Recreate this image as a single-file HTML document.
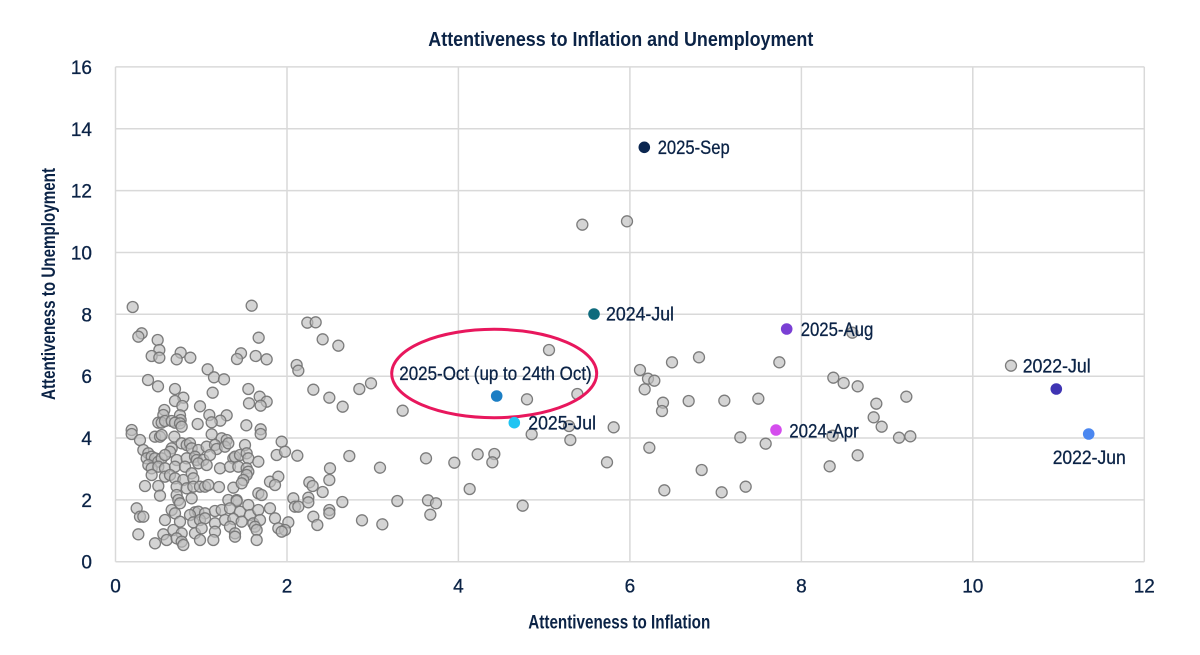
<!DOCTYPE html>
<html>
<head>
<meta charset="utf-8">
<style>
  html,body{margin:0;padding:0;background:#fff;}
  svg{display:block;}
  text{font-family:"Liberation Sans",Arial,sans-serif;fill:#0b2346;}
  .w{stroke:#0b2346;stroke-width:0.3;}
</style>
</head>
<body>
<svg width="1200" height="655" viewBox="0 0 1200 655" xmlns="http://www.w3.org/2000/svg">
  <rect x="0" y="0" width="1200" height="655" fill="#fff"/>
  <!-- grid -->
  <g stroke="#d9d9d9" stroke-width="1.5" fill="none">
    <line x1="115.5" y1="66.9" x2="115.5" y2="561.7"/>
    <line x1="287" y1="66.9" x2="287" y2="561.7"/>
    <line x1="458.4" y1="66.9" x2="458.4" y2="561.7"/>
    <line x1="629.9" y1="66.9" x2="629.9" y2="561.7"/>
    <line x1="801.4" y1="66.9" x2="801.4" y2="561.7"/>
    <line x1="972.8" y1="66.9" x2="972.8" y2="561.7"/>
    <line x1="1144.3" y1="66.9" x2="1144.3" y2="561.7"/>
    <line x1="115.5" y1="66.9" x2="1144.3" y2="66.9"/>
    <line x1="115.5" y1="128.8" x2="1144.3" y2="128.8"/>
    <line x1="115.5" y1="190.6" x2="1144.3" y2="190.6"/>
    <line x1="115.5" y1="252.5" x2="1144.3" y2="252.5"/>
    <line x1="115.5" y1="314.3" x2="1144.3" y2="314.3"/>
    <line x1="115.5" y1="376.2" x2="1144.3" y2="376.2"/>
    <line x1="115.5" y1="438" x2="1144.3" y2="438"/>
    <line x1="115.5" y1="499.9" x2="1144.3" y2="499.9"/>
    <line x1="115.5" y1="561.7" x2="1144.3" y2="561.7"/>
  </g>

  <!-- y tick labels -->
  <g font-size="19" text-anchor="end" class="w">
    <text x="92" y="74">16</text>
    <text x="92" y="135.8">14</text>
    <text x="92" y="197.6">12</text>
    <text x="92" y="259.5">10</text>
    <text x="92" y="321.3">8</text>
    <text x="92" y="383.2">6</text>
    <text x="92" y="445">4</text>
    <text x="92" y="506.9">2</text>
    <text x="92" y="568.7">0</text>
  </g>
  <!-- x tick labels -->
  <g font-size="19" text-anchor="middle" class="w">
    <text x="115.5" y="592.5">0</text>
    <text x="287" y="592.5">2</text>
    <text x="458.4" y="592.5">4</text>
    <text x="629.9" y="592.5">6</text>
    <text x="801.4" y="592.5">8</text>
    <text x="972.8" y="592.5">10</text>
    <text x="1144.3" y="592.5">12</text>
  </g>

  <!-- titles -->
  <text x="428.3" y="46" font-size="20" font-weight="bold" textLength="385" lengthAdjust="spacingAndGlyphs">Attentiveness to Inflation and Unemployment</text>
  <text x="528.3" y="628.3" font-size="19" font-weight="bold" textLength="182" lengthAdjust="spacingAndGlyphs">Attentiveness to Inflation</text>
  <text transform="translate(55,284) rotate(-90)" x="0" y="0" text-anchor="middle" font-size="19" font-weight="bold" textLength="232" lengthAdjust="spacingAndGlyphs">Attentiveness to Unemployment</text>

  <!-- grey points -->
  <g fill="#bdbdbd" fill-opacity="0.65" stroke="#767676" stroke-opacity="0.95">
    <g transform="translate(115,290) scale(0.33333)" stroke-width="3.9">
      <circle cx="53" cy="51" r="16.5"/><circle cx="410" cy="47" r="16.5"/><circle cx="80" cy="130" r="16.5"/><circle cx="70" cy="140" r="16.5"/>
      <circle cx="128" cy="150" r="16.5"/><circle cx="133" cy="180" r="16.5"/><circle cx="110" cy="198" r="16.5"/><circle cx="133" cy="203" r="16.5"/>
      <circle cx="197" cy="188" r="16.5"/><circle cx="185" cy="208" r="16.5"/><circle cx="226" cy="203" r="16.5"/><circle cx="431" cy="143" r="16.5"/>
      <circle cx="378" cy="190" r="16.5"/><circle cx="366" cy="207" r="16.5"/><circle cx="422" cy="198" r="16.5"/><circle cx="455" cy="208" r="16.5"/>
      <circle cx="545" cy="225" r="16.5"/><circle cx="550" cy="242" r="16.5"/><circle cx="278" cy="238" r="16.5"/><circle cx="297" cy="262" r="16.5"/>
      <circle cx="327" cy="268" r="16.5"/><circle cx="99" cy="270" r="16.5"/><circle cx="129" cy="289" r="16.5"/><circle cx="180" cy="297" r="16.5"/>
      <circle cx="205" cy="323" r="16.5"/><circle cx="180" cy="333" r="16.5"/><circle cx="202" cy="348" r="16.5"/><circle cx="293" cy="308" r="16.5"/>
      <circle cx="400" cy="297" r="16.5"/><circle cx="434" cy="320" r="16.5"/><circle cx="455" cy="335" r="16.5"/><circle cx="402" cy="340" r="16.5"/>
      <circle cx="437" cy="347" r="16.5"/><circle cx="255" cy="349" r="16.5"/><circle cx="148" cy="360" r="16.5"/><circle cx="145" cy="375" r="16.5"/>
      <circle cx="283" cy="375" r="16.5"/><circle cx="335" cy="376" r="16.5"/><circle cx="316" cy="392" r="16.5"/><circle cx="290" cy="397" r="16.5"/>
      <circle cx="195" cy="376" r="16.5"/><circle cx="197" cy="390" r="16.5"/><circle cx="130" cy="398" r="16.5"/><circle cx="140" cy="398" r="16.5"/>
      <circle cx="150" cy="393" r="16.5"/><circle cx="170" cy="393" r="16.5"/><circle cx="180" cy="398" r="16.5"/><circle cx="195" cy="400" r="16.5"/>
      <circle cx="200" cy="410" r="16.5"/><circle cx="248" cy="402" r="16.5"/><circle cx="394" cy="406" r="16.5"/><circle cx="437" cy="418" r="16.5"/>
      <circle cx="50" cy="420" r="16.5"/>
    </g>
    <g transform="translate(115,425) scale(0.33333)" stroke-width="3.9">
      <circle cx="50" cy="27" r="16.5"/><circle cx="75" cy="45" r="16.5"/><circle cx="120" cy="35" r="16.5"/><circle cx="135" cy="35" r="16.5"/>
      <circle cx="140" cy="30" r="16.5"/><circle cx="178" cy="35" r="16.5"/><circle cx="290" cy="28" r="16.5"/><circle cx="320" cy="40" r="16.5"/>
      <circle cx="335" cy="45" r="16.5"/><circle cx="437" cy="27" r="16.5"/>
      <circle cx="85" cy="75" r="16.5"/><circle cx="100" cy="85" r="16.5"/><circle cx="170" cy="70" r="16.5"/><circle cx="165" cy="80" r="16.5"/>
      <circle cx="200" cy="55" r="16.5"/><circle cx="215" cy="60" r="16.5"/><circle cx="225" cy="55" r="16.5"/><circle cx="230" cy="70" r="16.5"/>
      <circle cx="250" cy="75" r="16.5"/><circle cx="275" cy="65" r="16.5"/><circle cx="300" cy="60" r="16.5"/><circle cx="305" cy="72" r="16.5"/>
      <circle cx="330" cy="65" r="16.5"/><circle cx="340" cy="55" r="16.5"/><circle cx="390" cy="60" r="16.5"/><circle cx="500" cy="50" r="16.5"/>
      <circle cx="95" cy="100" r="16.5"/><circle cx="110" cy="95" r="16.5"/><circle cx="120" cy="100" r="16.5"/><circle cx="130" cy="110" r="16.5"/>
      <circle cx="140" cy="100" r="16.5"/><circle cx="150" cy="90" r="16.5"/><circle cx="185" cy="105" r="16.5"/><circle cx="215" cy="100" r="16.5"/>
      <circle cx="240" cy="95" r="16.5"/><circle cx="245" cy="105" r="16.5"/><circle cx="265" cy="105" r="16.5"/><circle cx="285" cy="90" r="16.5"/>
      <circle cx="355" cy="100" r="16.5"/><circle cx="360" cy="95" r="16.5"/><circle cx="375" cy="90" r="16.5"/><circle cx="395" cy="85" r="16.5"/>
      <circle cx="400" cy="100" r="16.5"/><circle cx="430" cy="110" r="16.5"/><circle cx="485" cy="90" r="16.5"/><circle cx="510" cy="80" r="16.5"/>
      <circle cx="547" cy="92" r="16.5"/>
      <circle cx="100" cy="120" r="16.5"/><circle cx="110" cy="130" r="16.5"/><circle cx="130" cy="125" r="16.5"/><circle cx="150" cy="130" r="16.5"/>
      <circle cx="180" cy="125" r="16.5"/><circle cx="210" cy="125" r="16.5"/><circle cx="250" cy="115" r="16.5"/><circle cx="275" cy="120" r="16.5"/>
      <circle cx="315" cy="130" r="16.5"/><circle cx="345" cy="125" r="16.5"/><circle cx="370" cy="125" r="16.5"/><circle cx="395" cy="130" r="16.5"/>
      <circle cx="400" cy="140" r="16.5"/>
      <circle cx="110" cy="150" r="16.5"/><circle cx="150" cy="155" r="16.5"/><circle cx="165" cy="150" r="16.5"/><circle cx="180" cy="160" r="16.5"/>
      <circle cx="205" cy="165" r="16.5"/><circle cx="230" cy="145" r="16.5"/><circle cx="235" cy="160" r="16.5"/><circle cx="395" cy="150" r="16.5"/>
      <circle cx="385" cy="165" r="16.5"/><circle cx="465" cy="170" r="16.5"/><circle cx="490" cy="155" r="16.5"/><circle cx="480" cy="180" r="16.5"/>
      <circle cx="90" cy="183" r="16.5"/><circle cx="130" cy="183" r="16.5"/><circle cx="185" cy="185" r="16.5"/><circle cx="215" cy="190" r="16.5"/>
      <circle cx="235" cy="185" r="16.5"/><circle cx="255" cy="185" r="16.5"/><circle cx="270" cy="185" r="16.5"/><circle cx="280" cy="180" r="16.5"/>
      <circle cx="312" cy="186" r="16.5"/><circle cx="355" cy="188" r="16.5"/><circle cx="380" cy="175" r="16.5"/>
      <circle cx="135" cy="212" r="16.5"/><circle cx="185" cy="210" r="16.5"/><circle cx="190" cy="225" r="16.5"/><circle cx="195" cy="235" r="16.5"/>
      <circle cx="230" cy="220" r="16.5"/><circle cx="340" cy="225" r="16.5"/><circle cx="365" cy="225" r="16.5"/><circle cx="365" cy="228" r="16.5"/>
      <circle cx="430" cy="205" r="16.5"/><circle cx="440" cy="210" r="16.5"/><circle cx="535" cy="220" r="16.5"/><circle cx="540" cy="245" r="16.5"/>
      <circle cx="550" cy="245" r="16.5"/>
      <circle cx="65" cy="250" r="16.5"/><circle cx="75" cy="275" r="16.5"/><circle cx="85" cy="275" r="16.5"/><circle cx="170" cy="255" r="16.5"/>
      <circle cx="180" cy="265" r="16.5"/><circle cx="240" cy="262" r="16.5"/><circle cx="250" cy="260" r="16.5"/><circle cx="225" cy="270" r="16.5"/>
      <circle cx="270" cy="265" r="16.5"/><circle cx="300" cy="258" r="16.5"/><circle cx="320" cy="255" r="16.5"/><circle cx="345" cy="250" r="16.5"/>
      <circle cx="375" cy="260" r="16.5"/><circle cx="400" cy="240" r="16.5"/><circle cx="405" cy="270" r="16.5"/><circle cx="430" cy="255" r="16.5"/>
      <circle cx="465" cy="250" r="16.5"/>
      <circle cx="150" cy="285" r="16.5"/><circle cx="195" cy="290" r="16.5"/><circle cx="235" cy="292" r="16.5"/><circle cx="255" cy="285" r="16.5"/>
      <circle cx="270" cy="280" r="16.5"/><circle cx="300" cy="295" r="16.5"/><circle cx="330" cy="285" r="16.5"/><circle cx="355" cy="282" r="16.5"/>
      <circle cx="380" cy="290" r="16.5"/><circle cx="415" cy="295" r="16.5"/><circle cx="435" cy="285" r="16.5"/><circle cx="480" cy="280" r="16.5"/>
      <circle cx="520" cy="292" r="16.5"/>
      <circle cx="70" cy="328" r="16.5"/><circle cx="145" cy="328" r="16.5"/><circle cx="175" cy="315" r="16.5"/><circle cx="200" cy="325" r="16.5"/>
      <circle cx="240" cy="325" r="16.5"/><circle cx="260" cy="310" r="16.5"/><circle cx="300" cy="320" r="16.5"/><circle cx="345" cy="305" r="16.5"/>
      <circle cx="360" cy="325" r="16.5"/><circle cx="420" cy="305" r="16.5"/><circle cx="425" cy="315" r="16.5"/><circle cx="490" cy="310" r="16.5"/>
      <circle cx="510" cy="315" r="16.5"/><circle cx="500" cy="320" r="16.5"/>
      <circle cx="120" cy="355" r="16.5"/><circle cx="155" cy="345" r="16.5"/><circle cx="185" cy="340" r="16.5"/><circle cx="200" cy="350" r="16.5"/>
      <circle cx="205" cy="360" r="16.5"/><circle cx="255" cy="345" r="16.5"/><circle cx="295" cy="345" r="16.5"/><circle cx="360" cy="335" r="16.5"/>
      <circle cx="425" cy="345" r="16.5"/>
    </g>
    <g transform="translate(300,290) scale(0.33333)" stroke-width="3.9">
      <circle cx="22" cy="98" r="16.5"/><circle cx="47" cy="97" r="16.5"/><circle cx="68" cy="148" r="16.5"/><circle cx="115" cy="167" r="16.5"/>
      <circle cx="40" cy="299" r="16.5"/><circle cx="88" cy="323" r="16.5"/><circle cx="128" cy="350" r="16.5"/><circle cx="178" cy="297" r="16.5"/>
      <circle cx="213" cy="280" r="16.5"/><circle cx="308" cy="362" r="16.5"/>
    </g>
    <g transform="translate(300,425) scale(0.33333)" stroke-width="3.9">
      <circle cx="148" cy="93" r="16.5"/><circle cx="90" cy="130" r="16.5"/><circle cx="240" cy="128" r="16.5"/><circle cx="378" cy="100" r="16.5"/>
      <circle cx="463" cy="113" r="16.5"/><circle cx="533" cy="88" r="16.5"/><circle cx="583" cy="87" r="16.5"/><circle cx="577" cy="112" r="16.5"/>
      <circle cx="509" cy="192" r="16.5"/><circle cx="28" cy="172" r="16.5"/><circle cx="38" cy="183" r="16.5"/><circle cx="88" cy="165" r="16.5"/>
      <circle cx="68" cy="201" r="16.5"/><circle cx="25" cy="218" r="16.5"/><circle cx="25" cy="232" r="16.5"/><circle cx="127" cy="231" r="16.5"/>
      <circle cx="88" cy="255" r="16.5"/><circle cx="88" cy="265" r="16.5"/><circle cx="40" cy="275" r="16.5"/><circle cx="52" cy="300" r="16.5"/>
      <circle cx="186" cy="286" r="16.5"/><circle cx="247" cy="298" r="16.5"/><circle cx="292" cy="228" r="16.5"/><circle cx="384" cy="226" r="16.5"/>
      <circle cx="408" cy="235" r="16.5"/><circle cx="391" cy="269" r="16.5"/>
    </g>
    <g transform="translate(495,290) scale(0.33333)" stroke-width="3.9">
      <circle cx="162" cy="180" r="16.5"/><circle cx="96" cy="328" r="16.5"/><circle cx="247" cy="312" r="16.5"/><circle cx="110" cy="433" r="16.5"/>
      <circle cx="222" cy="408" r="16.5"/><circle cx="226" cy="450" r="16.5"/><circle cx="356" cy="412" r="16.5"/><circle cx="336" cy="517" r="16.5"/>
      <circle cx="463" cy="473" r="16.5"/><circle cx="435" cy="240" r="16.5"/><circle cx="459" cy="266" r="16.5"/><circle cx="478" cy="272" r="16.5"/>
      <circle cx="449" cy="298" r="16.5"/><circle cx="531" cy="217" r="16.5"/><circle cx="612" cy="202" r="16.5"/><circle cx="504" cy="338" r="16.5"/>
      <circle cx="501" cy="363" r="16.5"/><circle cx="581" cy="333" r="16.5"/><circle cx="620" cy="540" r="16.5"/><circle cx="508" cy="601" r="16.5"/>
      <circle cx="83" cy="647" r="16.5"/>
    </g>
    <g transform="translate(700,290) scale(0.33333)" stroke-width="3.9">
      <circle cx="457" cy="128" r="16.5"/><circle cx="238" cy="217" r="16.5"/><circle cx="400" cy="263" r="16.5"/><circle cx="431" cy="279" r="16.5"/>
      <circle cx="473" cy="289" r="16.5"/><circle cx="619" cy="320" r="16.5"/><circle cx="529" cy="341" r="16.5"/><circle cx="73" cy="332" r="16.5"/>
      <circle cx="175" cy="326" r="16.5"/><circle cx="521" cy="382" r="16.5"/><circle cx="545" cy="410" r="16.5"/><circle cx="398" cy="437" r="16.5"/>
      <circle cx="121" cy="442" r="16.5"/><circle cx="197" cy="461" r="16.5"/><circle cx="597" cy="443" r="16.5"/><circle cx="631" cy="439" r="16.5"/>
      <circle cx="473" cy="496" r="16.5"/><circle cx="389" cy="529" r="16.5"/><circle cx="137" cy="590" r="16.5"/><circle cx="65" cy="607" r="16.5"/>
    </g>
    <g transform="translate(940,330) scale(0.33333)" stroke-width="3.9">
      <circle cx="213" cy="107" r="16.5"/>
    </g>
    <g transform="translate(555,130) scale(0.33333)" stroke-width="3.9">
      <circle cx="82" cy="284" r="16.5"/><circle cx="216" cy="274" r="16.5"/>
    </g>
  </g>

  <!-- ellipse highlight -->
  <ellipse cx="494.2" cy="373.5" rx="102.5" ry="44.2" fill="none" stroke="#e8175d" stroke-width="3"/>

  <!-- highlighted points -->
  <circle cx="644.3" cy="147.3" r="5.8" fill="#0b2650"/>
  <circle cx="594" cy="314" r="5.8" fill="#0f6b7d"/>
  <circle cx="786.7" cy="329" r="5.8" fill="#7a3fd4"/>
  <circle cx="496.7" cy="396" r="5.8" fill="#1b7ec4"/>
  <circle cx="514.3" cy="422.7" r="5.8" fill="#1fc4f2"/>
  <circle cx="776" cy="430" r="5.8" fill="#d44ded"/>
  <circle cx="1056.3" cy="389" r="5.8" fill="#3f34b3"/>
  <circle cx="1088.7" cy="434" r="5.8" fill="#4b87f0"/>

  <!-- labels -->
  <g font-size="19" class="w">
    <text x="657.7" y="154" textLength="72" lengthAdjust="spacingAndGlyphs">2025-Sep</text>
    <text x="606" y="320.7" textLength="68" lengthAdjust="spacingAndGlyphs">2024-Jul</text>
    <text x="800.7" y="336" textLength="72.6" lengthAdjust="spacingAndGlyphs">2025-Aug</text>
    <text x="399.3" y="380" textLength="192.4" lengthAdjust="spacingAndGlyphs">2025-Oct (up to 24th Oct)</text>
    <text x="528.3" y="429.3" textLength="67.7" lengthAdjust="spacingAndGlyphs">2025-Jul</text>
    <text x="789.3" y="437.3" textLength="69.4" lengthAdjust="spacingAndGlyphs">2024-Apr</text>
    <text x="1022.7" y="372.7" textLength="68" lengthAdjust="spacingAndGlyphs">2022-Jul</text>
    <text x="1052.7" y="464" textLength="73" lengthAdjust="spacingAndGlyphs">2022-Jun</text>
  </g>
</svg>
</body>
</html>
